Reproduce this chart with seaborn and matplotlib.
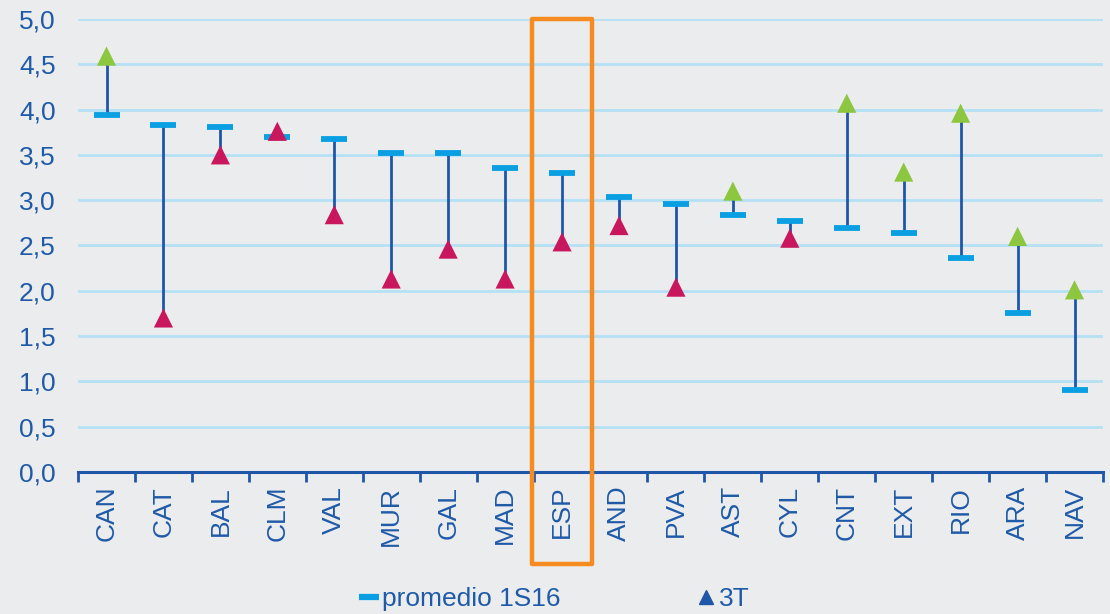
import numpy as np
import pandas as pd
import matplotlib
matplotlib.use("Agg")
import matplotlib.pyplot as plt
from matplotlib.lines import Line2D
from matplotlib.patches import Rectangle
import seaborn as sns

categories = ["CAN", "CAT", "BAL", "CLM", "VAL", "MUR", "GAL", "MAD", "ESP",
              "AND", "PVA", "AST", "CYL", "CNT", "EXT", "RIO", "ARA", "NAV"]
promedio_1s16 = [3.94, 3.83, 3.81, 3.70, 3.68, 3.52, 3.52, 3.35, 3.30,
                 3.04, 2.96, 2.84, 2.77, 2.69, 2.64, 2.36, 1.76, 0.91]
valor_3t = [4.59, 1.70, 3.50, 3.76, 2.84, 2.13, 2.46, 2.13, 2.54,
            2.72, 2.04, 3.10, 2.58, 4.07, 3.31, 3.96, 2.60, 2.01]
grupo_3t = ["sube", "baja", "baja", "baja", "baja", "baja", "baja", "baja", "baja",
            "baja", "baja", "sube", "baja", "sube", "sube", "sube", "sube", "sube"]
yticks = [0.0, 0.5, 1.0, 1.5, 2.0, 2.5, 3.0, 3.5, 4.0, 4.5, 5.0]
highlight = "ESP"

BG = "#EBECEE"
TXT = "#1F5AA8"
LINE = "#1F56A8"
BAR = "#0A9FE3"
GREEN = "#8DC63F"
RED = "#C8175D"
GRID = "#B5E1F5"
ORANGE = "#F68B1F"

df = pd.DataFrame({"cat": categories, "prom": promedio_1s16,
                   "t3": valor_3t, "grupo": grupo_3t})

sns.set_theme(style="white")
plt.rcParams["font.family"] = ["Liberation Sans", "DejaVu Sans"]

fig = plt.figure(figsize=(11.1, 6.14), dpi=100, facecolor=BG)
ax = fig.add_axes([0.0703, 0.2313, 0.9234, 0.7378])
ax.set_facecolor(BG)

# horizontal gridlines
for yv in yticks[1:]:
    ax.axhline(yv, color=GRID, lw=2.0, zorder=0)

# connectors
ax.vlines(df["cat"], df["prom"], df["t3"], color=LINE, lw=2.0, zorder=2)

# average bars
sns.scatterplot(data=df, x="cat", y="prom", marker="_", s=330, linewidth=4.2,
                color=BAR, ax=ax, zorder=3, legend=False)
# 3T triangles
sns.scatterplot(data=df, x="cat", y="t3", hue="grupo", marker="^", s=190,
                palette={"sube": GREEN, "baja": RED}, edgecolor="none",
                ax=ax, zorder=4, legend=False)

ax.set_xlim(-0.5, len(categories) - 0.5)
ax.set_ylim(0, 5.0)
ax.set_yticks(yticks)
ax.set_yticklabels([f"{v:.1f}".replace(".", ",") for v in yticks],
                   fontsize=19, color=TXT)
ax.tick_params(axis="y", length=0, pad=16)
ax.set_xticks(range(len(categories)))
ax.set_xticklabels(categories, rotation=90, fontsize=19, color=TXT)
ax.tick_params(axis="x", which="major", length=0, pad=10)
ax.set_xticks(np.arange(-0.5, len(categories), 1.0), minor=True)
ax.tick_params(axis="x", which="minor", length=7, width=2, color=LINE,
               direction="out", bottom=True)
ax.set_xlabel("")
ax.set_ylabel("")
for s in ["top", "right", "left"]:
    ax.spines[s].set_visible(False)
ax.spines["bottom"].set_color(LINE)
ax.spines["bottom"].set_linewidth(2.2)

# highlight box for ESP
i = categories.index(highlight)
x0 = fig.transFigure.inverted().transform(ax.transData.transform((i - 0.52, 0)))[0]
x1 = fig.transFigure.inverted().transform(ax.transData.transform((i + 0.52, 0)))[0]
rect = Rectangle((x0, 1 - 564 / 614), x1 - x0, (564 - 19) / 614,
                 transform=fig.transFigure, fill=False, edgecolor=ORANGE,
                 lw=3.2, zorder=10, joinstyle="round")
fig.add_artist(rect)

handles = [Line2D([], [], color=BAR, marker="_", markersize=14, mew=4.5, ls="none"),
           Line2D([], [], color=LINE, marker="^", markersize=10, ls="none")]
fig.legend(handles, ["promedio 1S16", "3T"], loc="center", ncol=2,
           bbox_to_anchor=(0.498, 0.024), frameon=False, fontsize=19,
           labelcolor=TXT, handletextpad=0.0, columnspacing=5.0, handlelength=1.0)

fig.savefig("out.png", dpi=100, facecolor=BG)
